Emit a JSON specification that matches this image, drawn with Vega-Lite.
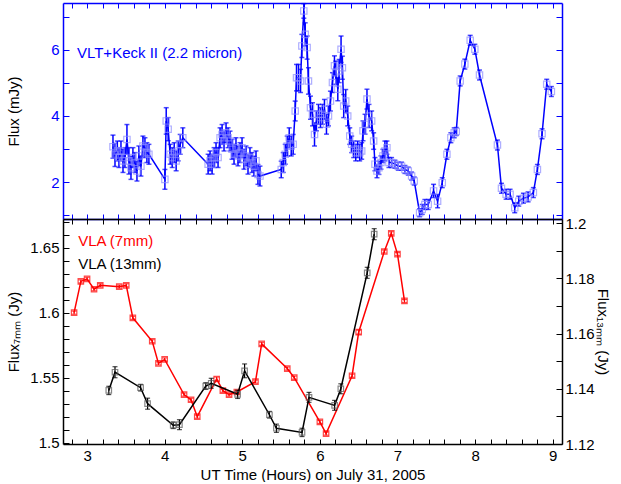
{
  "$schema": "https://vega.github.io/schema/vega-lite/v6.json",
  "padding": {"left": 6, "top": 2, "right": 0, "bottom": 0},
  "spacing": 0,
  "bounds": "flush",
  "config": {
    "view": {"stroke": null},
    "font": "Liberation Sans",
    "axis": {"labelFont": "Liberation Sans", "titleFont": "Liberation Sans", "labelFontSize": 15, "titleFontSize": 15, "titleFontWeight": "normal", "grid": false, "labelOverlap": false, "labelFlush": false, "domainWidth": 1.5, "tickWidth": 1}
  },
  "datasets": {
    "keck": [
      {"t":3.334,"f":3.07,"e":0.35},{"t":3.360,"f":2.82,"e":0.35},{"t":3.390,"f":2.94,"e":0.3},{"t":3.411,"f":2.74,"e":0.3},{"t":3.437,"f":2.94,"e":0.3},{"t":3.463,"f":2.64,"e":0.35},{"t":3.488,"f":2.74,"e":0.3},{"t":3.514,"f":3.29,"e":0.45},{"t":3.540,"f":2.64,"e":0.4},{"t":3.566,"f":2.43,"e":0.35},{"t":3.591,"f":2.74,"e":0.3},{"t":3.617,"f":2.59,"e":0.3},{"t":3.643,"f":2.33,"e":0.3},{"t":3.668,"f":2.79,"e":0.3},{"t":3.694,"f":2.48,"e":0.3},{"t":3.720,"f":3.09,"e":0.3},{"t":3.746,"f":3.04,"e":0.3},{"t":3.771,"f":2.89,"e":0.3},{"t":3.797,"f":2.84,"e":0.3},
      {"t":4.003,"f":2.08,"e":0.3},{"t":4.020,"f":3.85,"e":0.4},{"t":4.045,"f":3.60,"e":0.35},{"t":4.071,"f":2.84,"e":0.3},{"t":4.097,"f":2.74,"e":0.3},{"t":4.123,"f":2.89,"e":0.3},{"t":4.148,"f":2.64,"e":0.3},{"t":4.174,"f":2.94,"e":0.3},{"t":4.200,"f":3.14,"e":0.3},{"t":4.234,"f":3.34,"e":0.3},
      {"t":4.560,"f":2.54,"e":0.3},{"t":4.585,"f":2.64,"e":0.3},{"t":4.611,"f":2.54,"e":0.3},{"t":4.637,"f":2.74,"e":0.3},{"t":4.662,"f":2.89,"e":0.3},{"t":4.688,"f":2.74,"e":0.3},{"t":4.714,"f":3.34,"e":0.3},{"t":4.740,"f":3.44,"e":0.3},{"t":4.765,"f":3.24,"e":0.3},{"t":4.791,"f":3.49,"e":0.3},{"t":4.817,"f":3.34,"e":0.3},{"t":4.842,"f":3.24,"e":0.3},{"t":4.868,"f":2.99,"e":0.3},{"t":4.894,"f":2.84,"e":0.3},{"t":4.919,"f":3.04,"e":0.3},{"t":4.945,"f":2.79,"e":0.3},{"t":4.971,"f":2.89,"e":0.3},{"t":4.997,"f":3.04,"e":0.3},{"t":5.022,"f":2.69,"e":0.3},{"t":5.048,"f":2.79,"e":0.3},{"t":5.074,"f":2.54,"e":0.3},{"t":5.099,"f":2.74,"e":0.3},{"t":5.125,"f":2.59,"e":0.3},{"t":5.151,"f":2.48,"e":0.3},{"t":5.177,"f":2.64,"e":0.3},{"t":5.202,"f":2.23,"e":0.3},{"t":5.228,"f":2.18,"e":0.3},
      {"t":5.502,"f":2.38,"e":0.25},{"t":5.528,"f":2.59,"e":0.3},{"t":5.554,"f":2.84,"e":0.3},{"t":5.579,"f":3.09,"e":0.3},{"t":5.605,"f":3.34,"e":0.3},{"t":5.631,"f":3.09,"e":0.3},{"t":5.656,"f":3.14,"e":0.3},{"t":5.682,"f":4.15,"e":0.3},{"t":5.699,"f":5.16,"e":0.4},{"t":5.725,"f":5.16,"e":0.4},{"t":5.751,"f":5.06,"e":0.35},{"t":5.768,"f":6.12,"e":0.35},{"t":5.793,"f":7.18,"e":0.22},{"t":5.811,"f":6.47,"e":0.35},{"t":5.836,"f":6.07,"e":0.35},{"t":5.853,"f":5.06,"e":0.4},{"t":5.879,"f":4.25,"e":0.35},{"t":5.905,"f":4.05,"e":0.35},{"t":5.931,"f":3.44,"e":0.35},{"t":5.956,"f":3.85,"e":0.3},{"t":5.982,"f":4.05,"e":0.3},{"t":6.008,"f":3.95,"e":0.3},{"t":6.033,"f":4.05,"e":0.3},{"t":6.059,"f":4.20,"e":0.3},{"t":6.085,"f":3.75,"e":0.3},{"t":6.111,"f":4.00,"e":0.3},{"t":6.136,"f":4.45,"e":0.3},{"t":6.162,"f":5.01,"e":0.3},{"t":6.188,"f":5.52,"e":0.3},{"t":6.205,"f":5.31,"e":0.35},{"t":6.231,"f":4.81,"e":0.35},{"t":6.248,"f":5.36,"e":0.35},{"t":6.273,"f":6.02,"e":0.4},{"t":6.290,"f":5.46,"e":0.35},{"t":6.307,"f":4.30,"e":0.35},{"t":6.333,"f":4.45,"e":0.35},{"t":6.359,"f":4.00,"e":0.3},{"t":6.385,"f":3.39,"e":0.25},{"t":6.410,"f":3.14,"e":0.25},{"t":6.436,"f":2.99,"e":0.25},{"t":6.462,"f":2.89,"e":0.25},{"t":6.487,"f":2.99,"e":0.25},{"t":6.513,"f":2.89,"e":0.25},{"t":6.539,"f":2.94,"e":0.25},{"t":6.556,"f":3.55,"e":0.3},{"t":6.582,"f":3.75,"e":0.3},{"t":6.607,"f":4.51,"e":0.3},{"t":6.633,"f":4.00,"e":0.35},{"t":6.667,"f":3.85,"e":0.3},{"t":6.693,"f":3.24,"e":0.25},{"t":6.710,"f":2.54,"e":0.2},{"t":6.736,"f":2.33,"e":0.2},{"t":6.761,"f":2.43,"e":0.2},{"t":6.787,"f":2.59,"e":0.2},{"t":6.813,"f":2.79,"e":0.2},{"t":6.838,"f":2.94,"e":0.3},{"t":6.864,"f":3.04,"e":0.2},{"t":6.890,"f":2.59,"e":0.15},{"t":6.924,"f":2.59,"e":0.15},{"t":6.967,"f":2.54,"e":0.12},{"t":7.010,"f":2.48,"e":0.12},{"t":7.053,"f":2.48,"e":0.12},{"t":7.096,"f":2.38,"e":0.12},{"t":7.139,"f":2.33,"e":0.12},{"t":7.182,"f":2.18,"e":0.12},{"t":7.216,"f":2.03,"e":0.12},{"t":7.285,"f":1.07,"e":0.12},{"t":7.319,"f":1.17,"e":0.15},{"t":7.353,"f":1.32,"e":0.15},{"t":7.396,"f":1.32,"e":0.15},{"t":7.465,"f":1.73,"e":0.2},{"t":7.517,"f":1.42,"e":0.2},{"t":7.577,"f":1.98,"e":0.15},{"t":7.637,"f":2.84,"e":0.15},{"t":7.688,"f":3.34,"e":0.15},{"t":7.731,"f":3.49,"e":0.15},{"t":7.757,"f":3.53,"e":0.12},{"t":7.808,"f":5.06,"e":0.15},{"t":7.868,"f":5.57,"e":0.15},{"t":7.937,"f":6.29,"e":0.15},{"t":7.997,"f":6.02,"e":0.15},{"t":8.057,"f":5.24,"e":0.15},{"t":8.288,"f":3.12,"e":0.15},{"t":8.340,"f":1.81,"e":0.15},{"t":8.400,"f":1.63,"e":0.15},{"t":8.451,"f":1.63,"e":0.15},{"t":8.511,"f":1.22,"e":0.15},{"t":8.563,"f":1.42,"e":0.15},{"t":8.623,"f":1.51,"e":0.15},{"t":8.683,"f":1.55,"e":0.15},{"t":8.751,"f":1.68,"e":0.15},{"t":8.803,"f":2.38,"e":0.15},{"t":8.863,"f":3.46,"e":0.15},{"t":8.923,"f":4.96,"e":0.15},{"t":8.983,"f":4.74,"e":0.15}
    ],
    "mm7": [
      {"t":2.833,"f":1.600,"e":0.0012},{"t":2.92,"f":1.624,"e":0.0012},{"t":3.00,"f":1.626,"e":0.0012},{"t":3.09,"f":1.618,"e":0.0012},{"t":3.17,"f":1.621,"e":0.0012},{"t":3.415,"f":1.620,"e":0.0012},{"t":3.505,"f":1.621,"e":0.0012},{"t":3.59,"f":1.596,"e":0.0012},{"t":3.84,"f":1.578,"e":0.0012},{"t":3.92,"f":1.561,"e":0.0012},{"t":4.00,"f":1.564,"e":0.0012},{"t":4.25,"f":1.537,"e":0.0012},{"t":4.34,"f":1.533,"e":0.0012},{"t":4.42,"f":1.520,"e":0.0012},{"t":4.67,"f":1.549,"e":0.0015},{"t":4.75,"f":1.540,"e":0.0012},{"t":4.83,"f":1.537,"e":0.0012},{"t":4.93,"f":1.539,"e":0.0012},{"t":5.17,"f":1.547,"e":0.0012},{"t":5.25,"f":1.576,"e":0.0012},{"t":5.58,"f":1.557,"e":0.0012},{"t":5.67,"f":1.550,"e":0.0012},{"t":6.00,"f":1.516,"e":0.0012},{"t":6.08,"f":1.507,"e":0.0012},{"t":6.415,"f":1.5515,"e":0.0012},{"t":6.50,"f":1.585,"e":0.0015},{"t":6.83,"f":1.647,"e":0.0012},{"t":6.92,"f":1.661,"e":0.0012},{"t":7.00,"f":1.645,"e":0.0012},{"t":7.09,"f":1.609,"e":0.0012}
    ],
    "mm13": [
      {"t":3.28,"f":1.1394,"e":0.0015},{"t":3.36,"f":1.146,"e":0.002},{"t":3.69,"f":1.1404,"e":0.0012},{"t":3.78,"f":1.1346,"e":0.002},{"t":4.11,"f":1.1268,"e":0.0012},{"t":4.19,"f":1.127,"e":0.0018},{"t":4.53,"f":1.141,"e":0.0012},{"t":4.60,"f":1.142,"e":0.0018},{"t":4.94,"f":1.138,"e":0.0015},{"t":5.03,"f":1.1465,"e":0.0025},{"t":5.35,"f":1.1306,"e":0.0012},{"t":5.44,"f":1.1257,"e":0.0015},{"t":5.77,"f":1.1242,"e":0.0015},{"t":5.86,"f":1.1369,"e":0.0018},{"t":6.19,"f":1.134,"e":0.0018},{"t":6.27,"f":1.140,"e":0.0018},{"t":6.61,"f":1.182,"e":0.002},{"t":6.70,"f":1.196,"e":0.002}
    ]
  },
  "vconcat": [
    {
      "width": 499,
      "height": 216,
      "data": {"name": "keck"},
      "layer": [
        {
          "mark": {"type": "errorbar", "ticks": {"size": 5}, "color": "#0000ff", "thickness": 1.5},
          "encoding": {
            "x": {"field": "t", "type": "quantitative", "scale": {"domain": [2.69, 9.12], "nice": false, "zero": false},
                  "axis": {"orient": "bottom", "values": [2.8,3,3.2,3.4,3.6,3.8,4,4.2,4.4,4.6,4.8,5,5.2,5.4,5.6,5.8,6,6.2,6.4,6.6,6.8,7,7.2,7.4,7.6,7.8,8,8.2,8.4,8.6,8.8,9], "labels": false, "tickSize": -5, "tickColor": "#0000ff", "domainColor": "#0000ff", "title": null, "minExtent": 0, "maxExtent": 0}},
            "y": {"field": "f", "type": "quantitative", "scale": {"domain": [0.88, 7.42], "nice": false, "zero": false},
                  "axis": {"orient": "left", "values": [1,2,3,4,5,6,7], "labelExpr": "datum.value % 2 == 0 ? datum.value + '' : ''", "labelColor": "#0000ff", "tickColor": "#0000ff", "domainColor": "#0000ff", "tickSize": -6, "labelPadding": 10, "title": "Flux (mJy)", "titlePadding": 29}},
            "yError": {"field": "e"}
          }
        },
        {
          "mark": {"type": "line", "color": "#0000ff", "strokeWidth": 1.5},
          "encoding": {
            "x": {"field": "t", "type": "quantitative", "axis": {"orient": "top", "values": [2.8,3,3.2,3.4,3.6,3.8,4,4.2,4.4,4.6,4.8,5,5.2,5.4,5.6,5.8,6,6.2,6.4,6.6,6.8,7,7.2,7.4,7.6,7.8,8,8.2,8.4,8.6,8.8,9], "labels": false, "tickSize": -5, "tickColor": "#0000ff", "domainColor": "#0000ff", "title": null, "minExtent": 0, "maxExtent": 0}},
            "y": {"field": "f", "type": "quantitative", "axis": {"orient": "right", "values": [1,2,3,4,5,6,7], "labels": false, "tickSize": -6, "tickColor": "#0000ff", "domainColor": "#0000ff", "title": null, "minExtent": 0, "maxExtent": 0}}
          }
        },
        {
          "mark": {"type": "point", "shape": "square", "filled": false, "color": "#8c8cff", "size": 40, "strokeWidth": 1.2},
          "encoding": {
            "x": {"field": "t", "type": "quantitative", "axis": null},
            "y": {"field": "f", "type": "quantitative", "axis": null}
          }
        },
        {
          "data": {"values": [{"label": "VLT+Keck II (2.2 micron)"}]},
          "mark": {"type": "text", "align": "left", "baseline": "middle", "fontSize": 15, "color": "#0000ff", "font": "Liberation Sans"},
          "encoding": {
            "x": {"datum": 2.87, "type": "quantitative", "axis": null},
            "y": {"datum": 5.91, "type": "quantitative", "axis": null},
            "text": {"field": "label"}
          }
        }
      ],
      "resolve": {"axis": {"x": "independent", "y": "independent"}}
    },
    {
      "width": 499,
      "height": 225,
      "layer": [
        {
          "data": {"name": "mm7"},
          "mark": {"type": "errorbar", "ticks": {"size": 5}, "color": "#ff0000", "thickness": 1.2},
          "encoding": {
            "x": {"field": "t", "type": "quantitative", "scale": {"domain": [2.69, 9.12], "nice": false, "zero": false},
                  "axis": {"orient": "bottom", "values": [2.8,3,3.2,3.4,3.6,3.8,4,4.2,4.4,4.6,4.8,5,5.2,5.4,5.6,5.8,6,6.2,6.4,6.6,6.8,7,7.2,7.4,7.6,7.8,8,8.2,8.4,8.6,8.8,9], "labelExpr": "datum.value % 1 == 0 ? datum.value + '' : ''", "tickSize": -5, "tickColor": "#000000", "domainColor": "#000000", "labelColor": "#000000", "labelPadding": 9, "title": "UT Time (Hours) on July 31, 2005", "titleColor": "#000000", "titlePadding": 4}},
            "y": {"field": "f", "type": "quantitative", "scale": {"domain": [1.499, 1.672], "nice": false, "zero": false},
                  "axis": {"orient": "left", "values": [1.5,1.51,1.52,1.53,1.54,1.55,1.56,1.57,1.58,1.59,1.6,1.61,1.62,1.63,1.64,1.65,1.66,1.67], "labelExpr": "abs(datum.value*20 - round(datum.value*20)) < 0.001 ? datum.value + '' : ''", "tickSize": -6, "tickColor": "#000000", "domainColor": "#000000", "labelColor": "#000000", "labelPadding": 10, "title": "Flux₇ₘₘ (Jy)", "titleColor": "#000000", "titlePadding": 8}},
            "yError": {"field": "e"}
          }
        },
        {
          "data": {"name": "mm7"},
          "mark": {"type": "line", "color": "#ff0000", "strokeWidth": 1.5},
          "encoding": {
            "x": {"field": "t", "type": "quantitative", "axis": null},
            "y": {"field": "f", "type": "quantitative", "scale": {"domain": [1.499, 1.672], "nice": false, "zero": false}, "axis": null}
          }
        },
        {
          "data": {"name": "mm7"},
          "mark": {"type": "point", "shape": "square", "filled": false, "color": "#ff0000", "size": 30, "strokeWidth": 1.2},
          "encoding": {
            "x": {"field": "t", "type": "quantitative", "axis": null},
            "y": {"field": "f", "type": "quantitative", "scale": {"domain": [1.499, 1.672], "nice": false, "zero": false}, "axis": null}
          }
        },
        {
          "data": {"values": [{"label": "VLA (7mm)"}]},
          "mark": {"type": "text", "align": "left", "baseline": "middle", "fontSize": 15, "color": "#ff0000", "font": "Liberation Sans"},
          "encoding": {
            "x": {"datum": 2.885, "type": "quantitative", "axis": null},
            "y": {"datum": 1.655, "type": "quantitative", "scale": {"domain": [1.499, 1.672], "nice": false, "zero": false}, "axis": null},
            "text": {"field": "label"}
          }
        },
        {
          "data": {"name": "mm13"},
          "mark": {"type": "errorbar", "ticks": {"size": 5}, "color": "#000000", "thickness": 1.2},
          "encoding": {
            "x": {"field": "t", "type": "quantitative",
                  "axis": {"orient": "top", "values": [2.8,3,3.2,3.4,3.6,3.8,4,4.2,4.4,4.6,4.8,5,5.2,5.4,5.6,5.8,6,6.2,6.4,6.6,6.8,7,7.2,7.4,7.6,7.8,8,8.2,8.4,8.6,8.8,9], "labels": false, "tickSize": -5, "tickColor": "#000000", "domainColor": "#000000", "title": null, "minExtent": 0, "maxExtent": 0}},
            "y": {"field": "f", "type": "quantitative", "scale": {"domain": [1.12, 1.2015], "nice": false, "zero": false},
                  "axis": {"orient": "right", "values": [1.12,1.13,1.14,1.15,1.16,1.17,1.18,1.19,1.2], "labelExpr": "abs(datum.value*50 - round(datum.value*50)) < 0.001 ? datum.value + '' : ''", "tickSize": -6, "tickColor": "#000000", "domainColor": "#000000", "labelColor": "#000000", "labelPadding": 9, "title": "Flux₁₃ₘₘ (Jy)", "titleColor": "#000000", "titlePadding": 0}},
            "yError": {"field": "e"}
          }
        },
        {
          "data": {"name": "mm13"},
          "mark": {"type": "line", "color": "#000000", "strokeWidth": 1.5},
          "encoding": {
            "x": {"field": "t", "type": "quantitative", "axis": null},
            "y": {"field": "f", "type": "quantitative", "scale": {"domain": [1.12, 1.2015], "nice": false, "zero": false}, "axis": null}
          }
        },
        {
          "data": {"name": "mm13"},
          "mark": {"type": "point", "shape": "square", "filled": false, "color": "#555555", "size": 30, "strokeWidth": 1.2},
          "encoding": {
            "x": {"field": "t", "type": "quantitative", "axis": null},
            "y": {"field": "f", "type": "quantitative", "scale": {"domain": [1.12, 1.2015], "nice": false, "zero": false}, "axis": null}
          }
        },
        {
          "data": {"values": [{"label": "VLA (13mm)"}]},
          "mark": {"type": "text", "align": "left", "baseline": "middle", "fontSize": 15, "color": "#000000", "font": "Liberation Sans"},
          "encoding": {
            "x": {"datum": 2.885, "type": "quantitative", "axis": null},
            "y": {"datum": 1.1852, "type": "quantitative", "scale": {"domain": [1.12, 1.2015], "nice": false, "zero": false}, "axis": null},
            "text": {"field": "label"}
          }
        }
      ],
      "resolve": {"scale": {"y": "independent"}, "axis": {"x": "independent", "y": "independent"}}
    }
  ]
}
